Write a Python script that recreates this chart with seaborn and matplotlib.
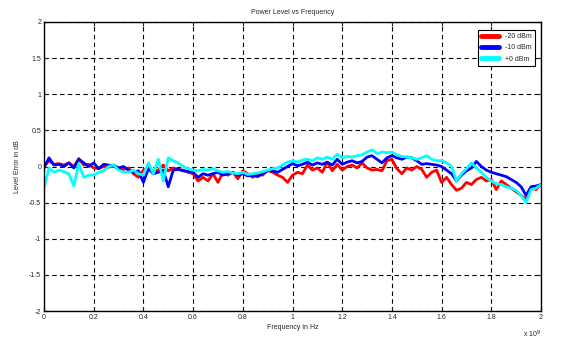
import numpy as np
import pandas as pd
import matplotlib
matplotlib.use("Agg")
import matplotlib.pyplot as plt
import seaborn as sns

freq = [round(0.02 * i, 2) for i in range(101)]  # x 10^9 Hz

err_m20 = [0.0, 0.08, 0.03, 0.04, 0.02, 0.05, 0.0, 0.11, 0.02, 0.03,
           -0.02, -0.03, 0.0, -0.01, 0.02, -0.02, -0.04, -0.02, -0.1, -0.15,
           -0.05, -0.02, -0.08, -0.05, 0.02, -0.06, -0.02, -0.04, -0.05, -0.08,
           -0.1, -0.2, -0.15, -0.2, -0.1, -0.22, -0.08, -0.12, -0.08, -0.17,
           -0.06, -0.1, -0.15, -0.1, -0.12, -0.05, -0.08, -0.12, -0.15, -0.22,
           -0.12, -0.08, -0.1, 0.02, -0.05, -0.02, -0.08, 0.06, -0.06, 0.03,
           -0.05, 0.0, 0.02, -0.02, 0.05, -0.02, -0.05, -0.04, -0.06, 0.08,
           0.1, -0.03, -0.1, -0.02, -0.05, 0.0, -0.04, -0.15, -0.08, -0.05,
           -0.22, -0.15, -0.25, -0.33, -0.3, -0.22, -0.25, -0.18, -0.15, -0.2,
           -0.18, -0.32, -0.2, -0.25, -0.3, -0.35, -0.4, -0.45, -0.3, -0.32,
           -0.25]

err_m10 = [-0.02, 0.12, 0.02, 0.03, 0.0, 0.05, -0.02, 0.1, 0.05, 0.0,
           0.05, -0.03, 0.03, 0.02, 0.0, -0.02, 0.0, -0.05, -0.08, -0.06,
           -0.22, -0.03, -0.1, -0.08, -0.05, -0.28, -0.05, -0.04, -0.06, -0.07,
           -0.08, -0.15, -0.1, -0.12, -0.1, -0.08, -0.12, -0.1, -0.08, -0.12,
           -0.1, -0.13, -0.12, -0.14, -0.1, -0.06, -0.06, -0.08, -0.04, 0.0,
           0.04, 0.01, 0.03, 0.06, 0.02, 0.05, 0.03, 0.06, 0.02, 0.1,
           0.03, 0.06, 0.08, 0.05, 0.07, 0.13, 0.15, 0.1, 0.05, 0.12,
           0.15, 0.12, 0.1, 0.13, 0.12, 0.08, 0.03, 0.04, 0.03, 0.02,
           0.0, -0.05, -0.1, -0.2, -0.12, -0.06, -0.02, 0.07, 0.0, -0.05,
           -0.08, -0.1, -0.12, -0.14, -0.18, -0.22, -0.28, -0.4, -0.28, -0.27,
           -0.25]

err_p0 = [-0.3, -0.02, -0.08, -0.05, -0.07, -0.1, -0.27, 0.04, -0.15, -0.12,
          -0.12, -0.08, -0.06, 0.0, 0.02, -0.05, -0.08, -0.08, -0.05, -0.1,
          -0.12, 0.05, -0.1, 0.1, -0.2, 0.12, 0.08, 0.05, 0.0, -0.03,
          -0.05, -0.06, -0.04, -0.05, -0.03, -0.06, -0.08, -0.07, -0.09, -0.1,
          -0.08, -0.11, -0.1, -0.09, -0.07, -0.05, -0.03, -0.02, 0.02, 0.06,
          0.08, 0.06, 0.09, 0.1, 0.08, 0.12, 0.1, 0.13, 0.1, 0.17,
          0.12, 0.14, 0.13, 0.15, 0.16, 0.2, 0.23, 0.18, 0.2, 0.19,
          0.2, 0.16, 0.14, 0.13, 0.12, 0.1, 0.12, 0.15, 0.1, 0.08,
          0.08, 0.05, 0.0, -0.2, -0.1, -0.03, 0.05, -0.02, -0.08, -0.15,
          -0.2, -0.24, -0.25, -0.28, -0.3, -0.33, -0.4, -0.5, -0.32, -0.3,
          -0.25]

series_names = ["-20 dBm", "-10 dBm", "+0 dBm"]
colors = ["#ff0000", "#0000ff", "#00ffff"]
xticks = [0, 0.2, 0.4, 0.6, 0.8, 1, 1.2, 1.4, 1.6, 1.8, 2]
xticklabels = ["0", "0.2", "0.4", "0.6", "0.8", "1", "1.2", "1.4", "1.6", "1.8", "2"]
yticks = [-2, -1.5, -1, -0.5, 0, 0.5, 1, 1.5, 2]
yticklabels = ["-2", "-1.5", "-1", "-0.5", "0", "0.5", "1", "1.5", "2"]

df = pd.concat([
    pd.DataFrame({"freq": freq, "err": vals, "level": name})
    for name, vals in zip(series_names, [err_m20, err_m10, err_p0])
])

sns.set_style("white")
plt.rcParams["font.family"] = ["Liberation Sans", "DejaVu Sans"]

fig = plt.figure(figsize=(5.68, 3.52), dpi=100)
ax = fig.add_axes([44 / 568, 1 - 311 / 352, (541 - 44) / 568, (311 - 22) / 352])

sns.lineplot(data=df, x="freq", y="err", hue="level", palette=colors,
             hue_order=series_names, linewidth=2.0, ax=ax, legend=True)

ax.set_xlim(0, 2)
ax.set_ylim(-2, 2)
ax.set_xticks(xticks)
ax.set_xticklabels(xticklabels)
ax.set_yticks(yticks)
ax.set_yticklabels(yticklabels)
ax.grid(True, color="black", linestyle=(0, (4, 3)), linewidth=0.8)
for s in ax.spines.values():
    s.set_color("black")
    s.set_linewidth(1.0)
ax.tick_params(direction="in", length=3, width=0.8, labelsize=5, pad=2,
               top=True, right=True, bottom=True, left=True)
ax.set_title("Power Level vs Frequency", fontsize=5, pad=6)
ax.set_xlabel("Frequency in Hz", fontsize=5, labelpad=2)
ax.set_ylabel("Level Error in dB", fontsize=5, labelpad=6)
ax.text(1.0, -0.06, r"x 10$^9$", transform=ax.transAxes, fontsize=5,
        ha="right", va="top")

leg = ax.legend(loc="upper right", fontsize=5, frameon=True, fancybox=False,
                edgecolor="black", framealpha=1, handlelength=2.6,
                borderpad=0.5, labelspacing=0.6, bbox_to_anchor=(0.995, 0.985))
leg.get_frame().set_linewidth(0.8)
for line in leg.get_lines():
    line.set_linewidth(3.5)

fig.savefig("out.png", dpi=100, facecolor="white")
